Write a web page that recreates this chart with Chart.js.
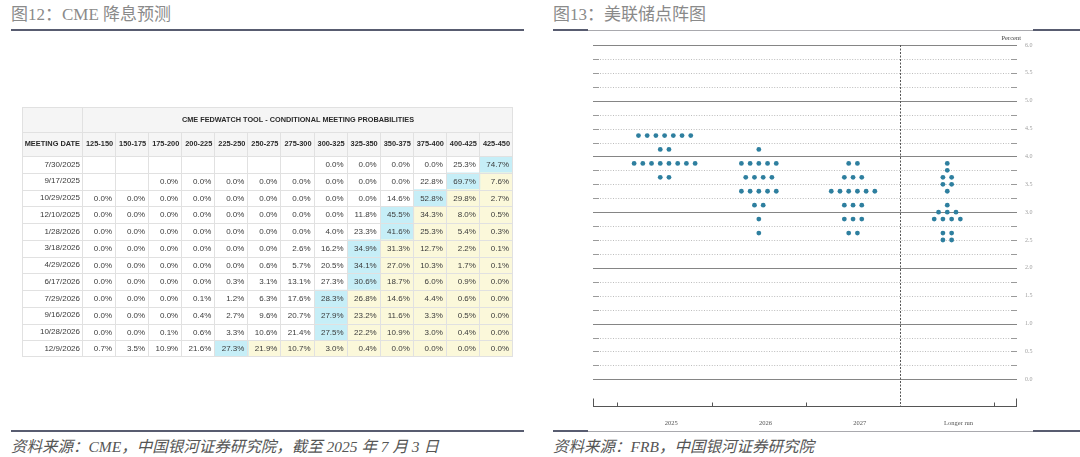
<!DOCTYPE html>
<html><head><meta charset="utf-8">
<script src="https://cdn.jsdelivr.net/npm/chart.js@4.4.1/dist/chart.umd.min.js"></script>
<style>
html,body{margin:0;padding:0;background:#fff;width:1080px;height:457px;overflow:hidden;}
body{position:relative;font-family:"Liberation Serif","Noto Sans CJK SC",serif;}
.title{position:absolute;top:3px;font-size:17px;color:#8a8a8a;white-space:nowrap;line-height:24px;}
.rule{position:absolute;height:2px;background:#585c70;}
.rulel{position:absolute;height:1px;background:#a9a9ae;}
.src{position:absolute;top:436px;font-size:15.5px;color:#555;font-style:italic;white-space:nowrap;line-height:22px;}
canvas{position:absolute;}
</style></head>
<body>
<div class="title" style="left:11px">图12：CME 降息预测</div>
<div class="title" style="left:553px">图13：美联储点阵图</div>
<div class="rule" style="left:11px;top:29px;width:513px"></div>
<div class="rule" style="left:553px;top:29px;width:35px"></div>
<div class="rulel" style="left:588px;top:30px;width:445px"></div>
<div class="rule" style="left:1033px;top:29px;width:47px"></div>
<div class="rule" style="left:11px;top:430px;width:513px"></div>
<div class="rule" style="left:553px;top:430px;width:35px"></div>
<div class="rulel" style="left:588px;top:431px;width:445px"></div>
<div class="rule" style="left:1033px;top:430px;width:47px"></div>
<div class="src" style="left:11px">资料来源：CME，中国银河证券研究院，截至 2025 年 7 月 3 日</div>
<div class="src" style="left:553px">资料来源：FRB，中国银河证券研究院</div>

<canvas id="tbl" width="491" height="250" style="left:22px;top:107px;width:491px;height:250px"></canvas>
<canvas id="dots" width="527" height="400" style="left:553px;top:31px;width:527px;height:400px"></canvas>

<script>
// ---------- Data: CME FedWatch conditional meeting probabilities ----------
const tableTitle = 'CME FEDWATCH TOOL - CONDITIONAL MEETING PROBABILITIES';
const firstHeader = 'MEETING DATE';
const rateBuckets = ['125-150','150-175','175-200','200-225','225-250','250-275','275-300','300-325','325-350','350-375','375-400','400-425','425-450'];
const meetingDates = ['7/30/2025','9/17/2025','10/29/2025','12/10/2025','1/28/2026','3/18/2026','4/29/2026','6/17/2026','7/29/2026','9/16/2026','10/28/2026','12/9/2026'];
const p20250730 = [null,null,null,null,null,null,null,0.0,0.0,0.0,0.0,25.3,74.7];
const p20250917 = [null,null,0.0,0.0,0.0,0.0,0.0,0.0,0.0,0.0,22.8,69.7,7.6];
const p20251029 = [0.0,0.0,0.0,0.0,0.0,0.0,0.0,0.0,0.0,14.6,52.8,29.8,2.7];
const p20251210 = [0.0,0.0,0.0,0.0,0.0,0.0,0.0,0.0,11.8,45.5,34.3,8.0,0.5];
const p20260128 = [0.0,0.0,0.0,0.0,0.0,0.0,0.0,4.0,23.3,41.6,25.3,5.4,0.3];
const p20260318 = [0.0,0.0,0.0,0.0,0.0,0.0,2.6,16.2,34.9,31.3,12.7,2.2,0.1];
const p20260429 = [0.0,0.0,0.0,0.0,0.0,0.6,5.7,20.5,34.1,27.0,10.3,1.7,0.1];
const p20260617 = [0.0,0.0,0.0,0.0,0.3,3.1,13.1,27.3,30.6,18.7,6.0,0.9,0.0];
const p20260729 = [0.0,0.0,0.0,0.1,1.2,6.3,17.6,28.3,26.8,14.6,4.4,0.6,0.0];
const p20260916 = [0.0,0.0,0.0,0.4,2.7,9.6,20.7,27.9,23.2,11.6,3.3,0.5,0.0];
const p20261028 = [0.0,0.0,0.1,0.6,3.3,10.6,21.4,27.5,22.2,10.9,3.0,0.4,0.0];
const p20261209 = [0.7,3.5,10.9,21.6,27.3,21.9,10.7,3.0,0.4,0.0,0.0,0.0,0.0];
const probRows = [p20250730,p20250917,p20251029,p20251210,p20260128,p20260318,p20260429,p20260617,p20260729,p20260916,p20261028,p20261209];

// ---------- Data: FOMC dot plot (midpoint of target range, number of participants) ----------
const dotCategories = ['2025','2026','2027','Longer run'];
const dots2025 = [[4.375,7],[4.125,2],[3.875,8],[3.625,2]];
const dots2026 = [[4.125,1],[3.875,5],[3.625,4],[3.375,5],[3.125,2],[2.875,1],[2.625,1]];
const dots2027 = [[3.875,2],[3.625,3],[3.375,6],[3.125,3],[2.875,3],[2.625,2]];
const dotsLonger = [[3.875,1],[3.75,1],[3.625,2],[3.5,2],[3.375,1],[3.125,1],[3.0,3],[2.875,4],[2.625,2],[2.5,2]];
const dotGroups = [dots2025,dots2026,dots2027,dotsLonger];
const yTickValues = [0,0.5,1,1.5,2,2.5,3,3.5,4,4.5,5,5.5,6];

// ---------- Table chart ----------
const BLUE = '#c6eef7', YELLOW = '#fbf8da', CLEAR = 'rgba(0,0,0,0)';
const maxIdx = probRows.map(row => {
  let m = -1, mi = -1;
  row.forEach((v,i)=>{ if(v!=null && v>m){m=v;mi=i;} });
  return mi;
});
function cellColor(r,c){
  const v = probRows[r][c];
  if (v==null) return CLEAR;
  if (c===maxIdx[r]) return BLUE;
  if (c>maxIdx[r]) return YELLOW;
  return CLEAR;
}
const SANS = '"Liberation Sans", Arial, Helvetica, sans-serif';
const tablePlugin = {
  id:'tablePlugin',
  beforeDatasetsDraw(chart){
    const {ctx, chartArea:a} = chart;
    ctx.save();
    ctx.fillStyle = '#f5f5f5';
    ctx.fillRect(0, 0, chart.width, a.top);
    ctx.restore();
  },
  afterDatasetsDraw(chart){
    const {ctx, chartArea:a} = chart;
    const xs = chart.scales.x, ys = chart.scales.y;
    const W = chart.width;
    const rowH = (a.bottom-a.top)/meetingDates.length;
    const hTitle = 25;
    ctx.save();
    // borders
    ctx.strokeStyle = '#e1e1e1';
    ctx.lineWidth = 1;
    ctx.beginPath();
    const hline = (y,x0,x1)=>{ y=Math.round(y)+0.5; ctx.moveTo(x0,y); ctx.lineTo(x1,y); };
    const vline = (x,y0,y1)=>{ x=Math.round(x)-0.5; ctx.moveTo(x,y0); ctx.lineTo(x,y1); };
    hline(0,0,W); hline(hTitle,0,W); hline(a.top,0,W);
    for (let r=1;r<=meetingDates.length;r++) hline(a.top + r*rowH - (r===meetingDates.length?1:0),0,W);
    vline(1,0,a.bottom); vline(a.left,0,a.bottom);
    for (let c=1;c<rateBuckets.length;c++) vline(xs.getPixelForValue(c), hTitle, a.bottom);
    vline(W,0,a.bottom);
    ctx.stroke();
    // header texts
    ctx.fillStyle = '#2a2a2a';
    ctx.textBaseline = 'middle';
    ctx.font = 'bold 7.3px ' + SANS;
    ctx.textAlign = 'center';
    ctx.fillText(tableTitle, (xs.getPixelForValue(0)+xs.getPixelForValue(rateBuckets.length))/2, hTitle/2);
    const yh = (hTitle + a.top)/2;
    ctx.font = 'bold 7.4px ' + SANS;
    ctx.textAlign = 'right';
    ctx.fillText(firstHeader, a.left - 3, yh);
    ctx.textAlign = 'center';
    rateBuckets.forEach((b,c)=> ctx.fillText(b, xs.getPixelForValue(c+0.5), yh));
    // cell values
    ctx.font = '8px ' + SANS;
    ctx.fillStyle = '#3a3a3a';
    ctx.textAlign = 'right';
    probRows.forEach((row,r)=>{
      const y = ys.getPixelForValue(r);
      row.forEach((v,c)=>{
        if (v==null) return;
        ctx.fillText(v.toFixed(1)+'%', xs.getPixelForValue(c+1)-4, y+0.5);
      });
    });
    ctx.restore();
  }
};

new Chart(document.getElementById('tbl'), {
  type:'bar',
  data:{
    labels: meetingDates,
    datasets: rateBuckets.map((b,c)=>({
      label:b,
      data: probRows.map(row => row[c]==null ? null : [c, c+1]),
      backgroundColor: probRows.map((row,r)=>cellColor(r,c)),
      grouped:false, barPercentage:1, categoryPercentage:1,
      borderWidth:0, borderSkipped:false
    }))
  },
  options:{
    indexAxis:'y', responsive:false, animation:false,
    layout:{padding:{top:49,left:0,right:0,bottom:0}},
    plugins:{legend:{display:false}, tooltip:{enabled:false}, title:{display:false}},
    scales:{
      x:{type:'linear', min:0, max:rateBuckets.length, display:false},
      y:{type:'category', offset:true,
         grid:{display:false, drawTicks:false, tickLength:0},
         border:{display:false},
         ticks:{autoSkip:false, padding:3, color:'#3a3a3a', font:{family:SANS, size:8}},
         afterFit(s){ s.width = 61; s.paddingTop = 0; s.paddingBottom = 0; }
      }
    }
  },
  plugins:[tablePlugin]
});

// ---------- Dot plot chart ----------
const DOT_STEP = 0.0925;
const dotPoints = [];
dotGroups.forEach((grp,gi)=>{
  grp.forEach(([rate,n])=>{
    for (let j=0;j<n;j++) dotPoints.push({x: gi + (j-(n-1)/2)*DOT_STEP, y: rate});
  });
});
const SERIF = '"Liberation Serif", "Times New Roman", serif';
const dotPlugin = {
  id:'dotPlugin',
  beforeDatasetsDraw(chart){
    const {ctx, chartArea:a} = chart;
    const xs = chart.scales.x, ys = chart.scales.y;
    const xL = Math.round(xs.getPixelForValue(xs.min)), xR = Math.round(xs.getPixelForValue(xs.max));
    ctx.save();
    for (let k=0;k<=24;k++){
      const v = k*0.25;
      const y = Math.round(ys.getPixelForValue(v))+0.5;
      if (k%4===0){
        ctx.setLineDash([]);
        ctx.strokeStyle = '#858585'; ctx.lineWidth = 1;
        ctx.beginPath(); ctx.moveTo(xL,y); ctx.lineTo(xR,y); ctx.stroke();
      } else {
        ctx.setLineDash([]);
        ctx.strokeStyle = '#9a9a9a'; ctx.lineWidth = 1;
        ctx.beginPath(); ctx.moveTo(xL,y); ctx.lineTo(xL+6,y); ctx.moveTo(xR-6,y); ctx.lineTo(xR,y); ctx.stroke();
        ctx.setLineDash([1,1.6]);
        ctx.strokeStyle = '#bdbdbd';
        ctx.beginPath(); ctx.moveTo(xL+7,y); ctx.lineTo(xR-7,y); ctx.stroke();
      }
    }
    ctx.setLineDash([]);
    // y tick labels on the right
    ctx.fillStyle = '#a0a0a0';
    ctx.font = '6px ' + SERIF;
    ctx.textAlign = 'left'; ctx.textBaseline = 'middle';
    yTickValues.forEach(v => ctx.fillText(v.toFixed(1), xR+8, ys.getPixelForValue(v)));
    // "Percent"
    ctx.fillStyle = '#444';
    ctx.font = '6.5px ' + SERIF;
    ctx.textAlign = 'right';
    ctx.fillText('Percent', xR+4, ys.getPixelForValue(6)-7);
    // vertical dashed separator
    const xd = Math.round(xs.getPixelForValue(2.5))+0.5;
    ctx.strokeStyle = '#555'; ctx.lineWidth = 1;
    ctx.setLineDash([2,1.5]);
    ctx.beginPath(); ctx.moveTo(xd, ys.getPixelForValue(6)); ctx.lineTo(xd, a.bottom); ctx.stroke();
    ctx.setLineDash([]);
    // bottom axis
    const yb = Math.round(a.bottom)+0.5;
    ctx.strokeStyle = '#555';
    ctx.beginPath();
    ctx.moveTo(xL,yb); ctx.lineTo(xR,yb);
    ctx.moveTo(xL+0.5,yb); ctx.lineTo(xL+0.5,yb-8);
    ctx.moveTo(xR-0.5,yb); ctx.lineTo(xR-0.5,yb-8);
    [-0.5,0.5,1.5,3.5].forEach(t=>{
      const xt = Math.round(xs.getPixelForValue(t))+0.5;
      ctx.moveTo(xt,yb); ctx.lineTo(xt,yb-4);
    });
    ctx.stroke();
    // category labels
    ctx.fillStyle = '#555';
    ctx.font = '6.5px ' + SERIF;
    ctx.textAlign = 'center';
    dotCategories.forEach((c,i)=>{
      const off = i===3 ? 0.12 : 0.07;
      ctx.fillText(c, xs.getPixelForValue(i+off), yb+17);
    });
    ctx.restore();
  }
};

new Chart(document.getElementById('dots'), {
  type:'scatter',
  data:{datasets:[{
    label:'FOMC participants',
    data: dotPoints,
    pointRadius:2.4, pointHoverRadius:2.4,
    pointBackgroundColor:'#2e7f9f', pointBorderWidth:0, borderWidth:0
  }]},
  options:{
    responsive:false, animation:false,
    layout:{padding:{left:40, right:63, top:14, bottom:25}},
    plugins:{legend:{display:false}, tooltip:{enabled:false}},
    scales:{
      x:{type:'linear', min:-0.76, max:3.74, display:false},
      y:{type:'linear', min:-0.479, max:6, display:false}
    }
  },
  plugins:[dotPlugin]
});
</script>
</body></html>
